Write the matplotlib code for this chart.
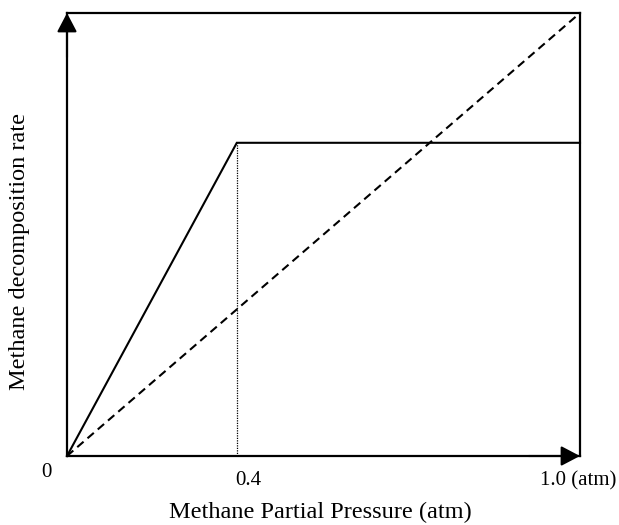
import matplotlib
matplotlib.use("Agg")
import matplotlib.pyplot as plt

# Data (schematic)
solid_x = [0.0, 0.331, 1.0]
solid_y = [0.0, 0.707, 0.707]
dashed_x = [0.0, 1.0]
dashed_y = [0.0, 1.0]
break_x = 0.331
tick_positions = [0.353, 0.996]
tick_labels = ["0.4", "1.0 (atm)"]

plt.rcParams['font.family'] = ['Liberation Serif', 'DejaVu Serif']

fig = plt.figure(figsize=(6.19, 5.25), dpi=100)
ax = fig.add_axes([67/619, (525-456)/525, (580-67)/619, (456-13)/525])
ax.set_xlim(0, 1)
ax.set_ylim(0, 1)

ax.plot(solid_x, solid_y, color='black', lw=1.5, solid_joinstyle='miter', clip_on=False)
ax.plot(dashed_x, dashed_y, color='black', lw=1.5, ls=(0, (4, 2.5)), clip_on=False)
ax.plot([break_x, break_x], [0, solid_y[1]], color='black', lw=0.9, ls=(0, (1, 1)))

for s in ax.spines.values():
    s.set_linewidth(1.6)

ax.set_xticks([])
ax.set_yticks([])
for xp, lab in zip(tick_positions, tick_labels):
    ax.text(xp, -0.0564, lab, transform=ax.transAxes, ha='center', va='center', fontsize=15)
ax.text(-0.041, -0.038, "0", transform=ax.transAxes, ha='center', va='center', fontsize=15)

fig.text(320/619, 1 - 512/525, "Methane Partial Pressure (atm)", ha='center', va='center', fontsize=17.5)
fig.text(20/619, 1 - 251/525, "Methane decomposition rate", ha='center', va='center',
         rotation=90, fontsize=17.5)

# arrows
arrow_kw = dict(arrowstyle='-|>,head_length=0.8,head_width=0.42', color='black', lw=1.5,
                mutation_scale=14.5, shrinkA=0, shrinkB=0)
ax.annotate('', xy=(0, 1), xytext=(0, 0.9), xycoords='axes fraction',
            arrowprops=arrow_kw, annotation_clip=False)
ax.annotate('', xy=(1, 0), xytext=(0.9, 0), xycoords='axes fraction',
            arrowprops=arrow_kw, annotation_clip=False)

fig.savefig("out.png", dpi=100)
